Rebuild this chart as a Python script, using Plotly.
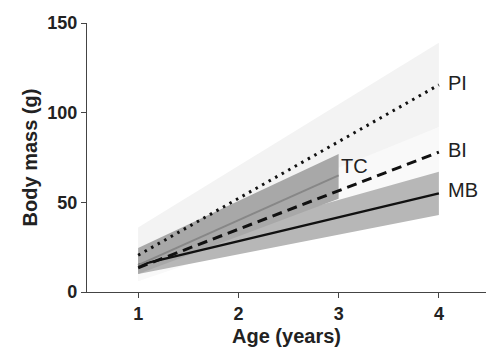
import plotly.graph_objects as go

# Data
ages_long = [1, 4]
ages_tc = [1, 3]

pi_mean = [20.5, 115.5]
pi_lower = [6, 92]
pi_upper = [36, 139]

bi_mean = [13.5, 78]
bi_lower = [6, 63]
bi_upper = [24, 92]

mb_mean = [15, 55]
mb_lower = [10, 43]
mb_upper = [20, 67]

tc_mean = [15, 65]
tc_lower = [10, 52]
tc_upper = [24.5, 77]

labels = ["PI", "BI", "MB", "TC"]
y_ticks = [0, 50, 100, 150]
x_ticks = [1, 2, 3, 4]

fig = go.Figure()


def band(x, lo, hi, color):
    fig.add_trace(go.Scatter(
        x=list(x) + list(x)[::-1], y=list(hi) + list(lo)[::-1],
        fill="toself", fillcolor=color, line=dict(width=0),
        mode="lines", hoverinfo="skip", showlegend=False))


band(ages_long, pi_lower, pi_upper, "#f3f3f3")
band(ages_long, bi_lower, bi_upper, "#f9f9f9")
band(ages_long, mb_lower, mb_upper, "#b7b7b7")
band(ages_tc, tc_lower, tc_upper, "#a8a8a8")

fig.add_trace(go.Scatter(x=ages_long, y=mb_mean, mode="lines",
                         line=dict(color="#111111", width=2.5), showlegend=False))
fig.add_trace(go.Scatter(x=ages_tc, y=tc_mean, mode="lines",
                         line=dict(color="#878787", width=2), showlegend=False))
fig.add_trace(go.Scatter(x=ages_long, y=bi_mean, mode="lines",
                         line=dict(color="#111111", width=3, dash="10px,6px"), showlegend=False))
fig.add_trace(go.Scatter(x=ages_long, y=pi_mean, mode="lines",
                         line=dict(color="#111111", width=3, dash="2.5px,5px"), showlegend=False))

ends = [(4, pi_mean[-1]), (4, bi_mean[-1]), (4, mb_mean[-1]), (3, tc_mean[-1])]
for lab, (xe, ye) in zip(labels, ends):
    dy = 1 if lab != "TC" else 5
    if lab == "MB":
        dy = 2
    fig.add_annotation(x=xe, y=ye + dy, text=lab, showarrow=False,
                       xanchor="left", xshift=(7 if lab != "TC" else 0),
                       font=dict(family="Liberation Sans, Arial", size=20, color="#222222"))

fig.update_layout(
    width=486, height=350,
    margin=dict(l=87, r=0, t=23, b=58),
    plot_bgcolor="white", paper_bgcolor="white",
    font=dict(family="Liberation Sans, Arial", color="#222222"),
)
fig.update_xaxes(
    range=[0.49, 4.47], tickvals=x_ticks, ticktext=[str(t) for t in x_ticks],
    showgrid=False, zeroline=False, showline=True, linecolor="#444444", linewidth=1.2,
    ticks="outside", ticklen=5, tickcolor="#444444", automargin=False,
    tickfont=dict(size=18, family="Liberation Sans, Arial", weight="bold", color="#222222"),
    title=dict(text="<b>Age (years)</b>", font=dict(size=20), standoff=6),
)
fig.update_yaxes(
    range=[0, 150], tickvals=y_ticks, ticktext=[str(t) for t in y_ticks],
    showgrid=False, zeroline=False, showline=True, linecolor="#444444", linewidth=1.2,
    ticks="outside", ticklen=5, tickcolor="#444444", automargin=False,
    tickfont=dict(size=18, family="Liberation Sans, Arial", weight="bold", color="#222222"),
    title=dict(text="<b>Body mass (g)</b>", font=dict(size=20), standoff=4),
)

fig.write_html("out.html", config={"displayModeBar": False},
               post_script="document.body.style.margin='0';")
